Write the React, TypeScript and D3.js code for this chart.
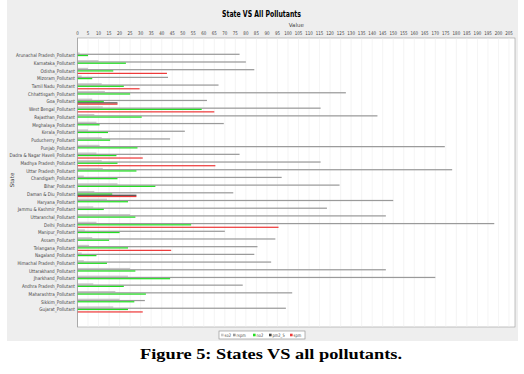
import * as d3 from "d3";

const states = [
  "Arunachal Pradesh_Pollutant", "Karnataka_Pollutant", "Odisha_Pollutant", "Mizoram_Pollutant",
  "Tamil Nadu_Pollutant", "Chhattisgarh_Pollutant", "Goa_Pollutant", "West Bengal_Pollutant",
  "Rajasthan_Pollutant", "Meghalaya_Pollutant", "Kerala_Pollutant", "Puducherry_Pollutant",
  "Punjab_Pollutant", "Dadra & Nagar Haveli_Pollutant", "Madhya Pradesh_Pollutant", "Uttar Pradesh_Pollutant",
  "Chandigarh_Pollutant", "Bihar_Pollutant", "Daman & Diu_Pollutant", "Haryana_Pollutant",
  "Jammu & Kashmir_Pollutant", "Uttaranchal_Pollutant", "Delhi_Pollutant", "Manipur_Pollutant",
  "Assam_Pollutant", "Telangana_Pollutant", "Nagaland_Pollutant", "Himachal Pradesh_Pollutant",
  "Uttarakhand_Pollutant", "Jharkhand_Pollutant", "Andhra Pradesh_Pollutant", "Maharashtra_Pollutant",
  "Sikkim_Pollutant", "Gujarat_Pollutant",
];

const so2 = [1, 10, 5, 2, 11.5, 13, 7, 12, 8, 9, 5, 11.5, 10.5, 9, 11.5, 12, 3, 19, 8, 14, 7.5, 25, 9, 3.5, 7, 5.5, 2, 3, 25, 24, 7.5, 18, 20, 17];
const rspm = [77, 80, 84, 43, 67, 127.5, 61.5, 115.5, 142.5, 69.5, 51, 44, 174.5, 77, 115.5, 178, 97, 124.5, 74, 150, 118.5, 146.5, 198, 70, 94, 85.5, 84, 92, 146.5, 170, 78.5, 102, 32, 99];
const no2 = [5, 23, 17, 7, 22, 25, 12.5, 59, 30.5, 10.5, 14.5, 15.5, 28.5, 18.5, 19, 28, 19, 37, 16.5, 24, 12.5, 27.5, 54, 20, 15, 24, 9, 14, 27.5, 44, 22, 32.5, 27, 24];
const pm2_5 = [0, 0, 0, 0, 0, 0, 19, 0, 0, 0, 0, 0, 0, 0, 0, 0, 0, 0, 28, 0, 0, 0, 0, 0, 0, 0, 0, 0, 0, 0, 0, 0, 0, 0];
const spm = [0, 0, 42.5, 0, 29.5, 0, 19, 65, 0, 0, 0, 0, 0, 31, 65.5, 0, 0, 0, 28, 0, 0, 0, 95.5, 0, 0, 44.5, 0, 0, 0, 0, 0, 0, 0, 31];

const seriesNames = ["so2", "rspm", "no2", "pm2_5", "spm"];
const seriesValues = [so2, rspm, no2, pm2_5, spm];
const seriesColors = ["#c8c8c8", "#9a9a9a", "#22dd22", "#444444", "#ee3b3b"];

const xTicks = d3.range(0, 206, 5);

const W = 524;
const H = 374;
const font = "'DejaVu Sans', sans-serif";

export default function App() {
  const plot = { left: 77.5, right: 515, top: 38, bottom: 327 };
  const x = d3.scaleLinear().domain([0, 205]).range([plot.left, 509]);
  const h = plot.bottom - plot.top;
  const y = d3
    .scaleBand()
    .domain(states)
    .range([plot.top + h * 0.05, plot.bottom - h * 0.05])
    .paddingInner(0.2)
    .paddingOuter(0);
  const inner = d3.scaleBand().domain(seriesNames).range([0, y.bandwidth()]);

  const legendX = 219;
  const legendW = 86;
  const itemX = [2, 14, 34, 50, 71];

  return (
    <svg width={W} height={H} style={{ position: "absolute", left: 0, top: 0 }}>
      <rect x={0} y={0} width={W} height={H} fill="#ffffff" />
      <rect x={7} y={0} width={511} height={341} fill="#eeeeee" />
      <text x={222} y={17} fontFamily={font} fontWeight="bold" fontSize={9.5} textLength={79} lengthAdjust="spacingAndGlyphs">
        State VS All Pollutants
      </text>
      <text x={(plot.left + plot.right) / 2} y={27} textAnchor="middle" fontFamily={font} fontSize={5.5} fill="#444">
        Value
      </text>
      {xTicks.map((t) => (
        <text
          key={"t" + t}
          transform={`translate(${x(t)},35) scale(0.8,1)`}
          textAnchor="middle"
          fontFamily={font}
          fontSize={5}
          fill="#444"
        >
          {t}
        </text>
      ))}
      <rect x={plot.left} y={plot.top} width={plot.right - plot.left} height={h} fill="#ffffff" stroke="#999" strokeWidth={0.6} />
      {xTicks.map((t) => (
        <line key={"g" + t} x1={x(t)} x2={x(t)} y1={plot.top} y2={plot.bottom} stroke="#ececec" strokeWidth={0.6} />
      ))}
      {states.map((s, i) =>
        seriesValues.map((vals, k) =>
          vals[i] > 0 ? (
            <rect
              key={s + k}
              x={x(0)}
              y={(y(s) as number) + (inner(seriesNames[k]) as number)}
              width={x(vals[i]) - x(0)}
              height={inner.bandwidth()}
              fill={seriesColors[k]}
            />
          ) : null
        )
      )}
      <line x1={plot.left} x2={plot.left} y1={plot.top} y2={plot.bottom} stroke="#888" strokeWidth={0.6} />
      {states.map((s) => (
        <text
          key={"l" + s}
          transform={`translate(${plot.left - 2.5},${(y(s) as number) + y.bandwidth() / 2 + 1.8}) scale(0.83,1)`}
          textAnchor="end"
          fontFamily={font}
          fontSize={5}
          fill="#444"
        >
          {s}
        </text>
      ))}
      <text
        transform="translate(14,180) rotate(-90)"
        textAnchor="middle"
        fontFamily={font}
        fontSize={5.5}
        fill="#444"
      >
        State
      </text>
      <rect x={legendX} y={331} width={legendW} height={8} fill="#ffffff" stroke="#888" strokeWidth={0.6} />
      {seriesNames.map((n, k) => (
        <g key={"lg" + n}>
          <rect x={legendX + itemX[k]} y={333.7} width={2.6} height={2.6} fill={seriesColors[k]} />
          <text
            transform={`translate(${legendX + itemX[k] + 3.6},336.7) scale(0.78,1)`}
            fontFamily={font}
            fontSize={4.6}
            fill="#444"
          >
            {n}
          </text>
        </g>
      ))}
      <text
        x={140}
        y={359}
        fontFamily="'Liberation Serif', 'Times New Roman', serif"
        fontWeight="bold"
        fontSize={15.5}
        textLength={262}
        lengthAdjust="spacingAndGlyphs"
      >
        Figure 5: States VS all pollutants.
      </text>
    </svg>
  );
}
